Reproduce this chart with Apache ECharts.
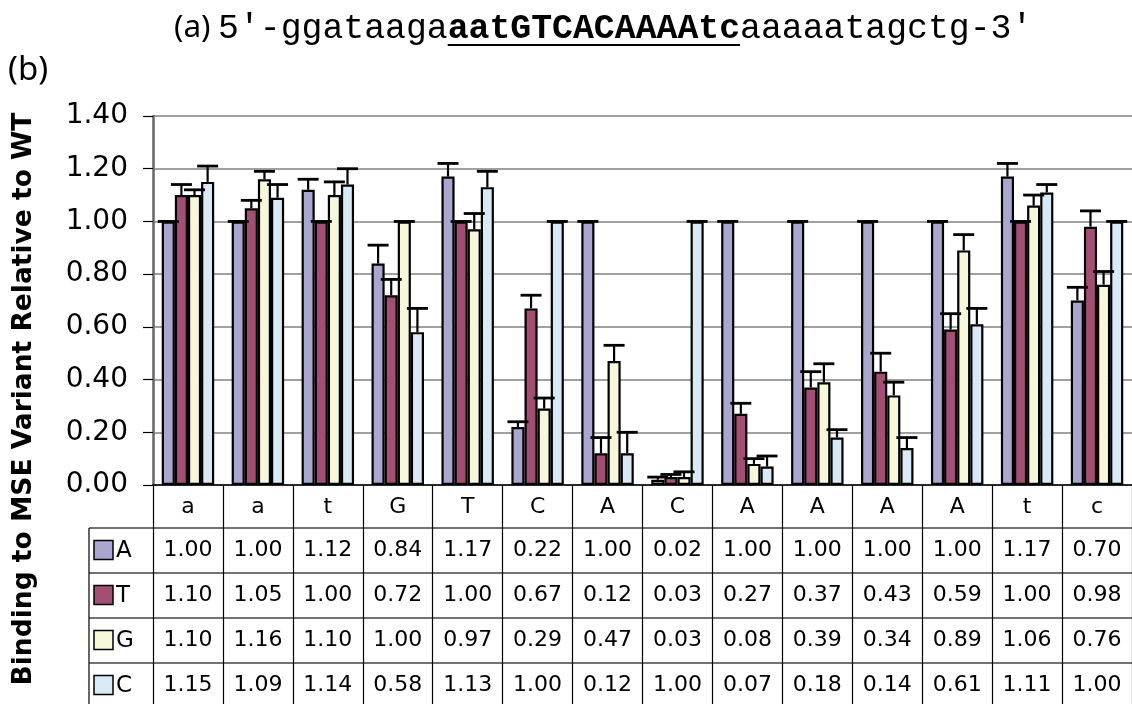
<!DOCTYPE html>
<html>
<head>
<meta charset="utf-8">
<style>
  html, body { margin: 0; padding: 0; background: #fff; }
  #chart { width: 1132px; height: 704px; }
</style>
<script src="https://cdn.jsdelivr.net/npm/echarts@6/dist/echarts.min.js"></script>
</head>
<body>
<div id="chart"></div>
<script>
// MSE variant binding, relative to WT, one group per position

const categories = ["a", "a", "t", "G", "T", "C", "A", "C", "A", "A", "A", "A", "t", "c"];
const seriesNames = ["A", "T", "G", "C"];
const seriesColors = ["#a9a6d0", "#a44e73", "#f7f7da", "#d7eaf6"];

const valA = [1.00, 1.00, 1.12, 0.84, 1.17, 0.22, 1.00, 0.02, 1.00, 1.00, 1.00, 1.00, 1.17, 0.70];
const valT = [1.10, 1.05, 1.00, 0.72, 1.00, 0.67, 0.12, 0.03, 0.27, 0.37, 0.43, 0.59, 1.00, 0.98];
const valG = [1.10, 1.16, 1.10, 1.00, 0.97, 0.29, 0.47, 0.03, 0.08, 0.39, 0.34, 0.89, 1.06, 0.76];
const valC = [1.15, 1.09, 1.14, 0.58, 1.13, 1.00, 0.12, 1.00, 0.07, 0.18, 0.14, 0.61, 1.11, 1.00];

// upper error bars
const errA = [0.00, 0.00, 0.04, 0.07, 0.05, 0.02, 0.00, 0.01, 0.00, 0.00, 0.00, 0.00, 0.05, 0.05];
const errT = [0.04, 0.03, 0.00, 0.06, 0.00, 0.05, 0.06, 0.01, 0.04, 0.06, 0.07, 0.06, 0.00, 0.06];
const errG = [0.02, 0.03, 0.05, 0.00, 0.06, 0.04, 0.06, 0.02, 0.02, 0.07, 0.05, 0.06, 0.04, 0.05];
const errC = [0.06, 0.05, 0.06, 0.09, 0.06, 0.00, 0.08, 0.00, 0.04, 0.03, 0.04, 0.06, 0.03, 0.00];

const yTicks = { min: 0, max: 1.4, interval: 0.2 };

const titlePrefix = "(a)";
const seqLeft = "5\u2032-ggataaga";
const seqCore = "aatGTCACAAAAtc";
const seqRight = "aaaaatagctg-3\u2032";
const yTitle = "Binding to MSE Variant Relative to WT";

const values = [valA, valT, valG, valC];
const errors = [errA, errT, errG, errC];

// ---------------- layout ----------------
const GRID = { left: 153, top: 116, width: 987, height: 369 };
const CAT_GAP = 0.25;                        // barCategoryGap
const TABLE_ROW_Y = [528, 573, 618, 663, 708]; // row boundaries below header
const TABLE_LEFT = 89;
const SANS = "DejaVu Sans";
const MONO = "Liberation Mono";
const LABEL = "Noto Sans";

function measure(text, font) {
    const c = document.createElement("canvas").getContext("2d");
    c.font = font;
    return c.measureText(text).width;
}

// ---------------- chart ----------------
const chart = echarts.init(document.getElementById("chart"), null, { renderer: "canvas" });

function errorSeries(k) {
    return {
        type: "custom",
        name: seriesNames[k] + "-err",
        z: 5,
        silent: true,
        data: categories.map((_, i) => [i, values[k][i], errors[k][i]]),
        renderItem: (params, api) => {
            const i = api.value(0);
            const v = api.value(1);
            const e = api.value(2);
            const band = api.size([1, 0])[0];
            const bw = band * (1 - CAT_GAP) / 4;
            const cx = api.coord([i, 0])[0] + (k - 1.5) * bw;
            const yv = api.coord([i, v])[1];
            const yt = api.coord([i, v + e])[1];
            const half = 10.5;
            return {
                type: "group",
                children: [
                    { type: "line", shape: { x1: cx, y1: yv, x2: cx, y2: yt }, style: { stroke: "#000", lineWidth: 2.2 } },
                    { type: "line", shape: { x1: cx - half, y1: yt, x2: cx + half, y2: yt }, style: { stroke: "#000", lineWidth: 2.8 } },
                ],
            };
        },
    };
}

const barSeries = seriesNames.map((name, k) => ({
    type: "bar",
    name,
    data: values[k],
    barGap: "0%",
    barCategoryGap: (CAT_GAP * 100) + "%",
    itemStyle: { color: seriesColors[k], borderColor: "#000", borderWidth: 2.2 },
    z: 3,
}));

chart.setOption({
    animation: false,
    backgroundColor: "#fff",
    grid: { ...GRID, containLabel: false },
    xAxis: {
        type: "category",
        data: categories,
        boundaryGap: true,
        axisLine: { lineStyle: { color: "#000", width: 1.5 } },
        axisTick: { show: true, length: 222, lineStyle: { color: "#000", width: 1.2 } },
        axisLabel: { color: "#000", fontFamily: SANS, fontSize: 22, margin: 11 },
        splitLine: { show: false },
    },
    yAxis: {
        type: "value",
        min: yTicks.min,
        max: yTicks.max,
        interval: yTicks.interval,
        axisLine: { show: true, lineStyle: { color: "#666", width: 2.5 } },
        axisTick: { show: true, length: 10, lineStyle: { color: "#000", width: 1.2 } },
        axisLabel: {
            color: "#000",
            fontFamily: SANS,
            fontSize: 28,
            margin: 25,
            formatter: (v) => v.toFixed(2),
        },
        splitLine: { show: true, lineStyle: { color: "#808080", width: 1.5 } },
    },
    series: [...barSeries, ...seriesNames.map((_, k) => errorSeries(k))],
});

// ---------------- titles + data table (graphic) ----------------
function buildGraphic() {
    const els = [];

    // title (a), sequence with the bold underlined core
    const ty = 29;
    const monoFont = `34.8px "${MONO}"`;
    const monoBold = `bold 34.8px "${MONO}"`;
    const x1 = 218;
    const w1 = measure(seqLeft, monoFont);
    const w2 = measure(seqCore, monoBold);
    const mid = { fill: "#000", verticalAlign: "middle", textVerticalAlign: "middle" };
    els.push({ type: "text", x: 174, y: ty - 1, style: { ...mid, text: titlePrefix, font: `31.5px "${LABEL}"` } });
    els.push({ type: "text", x: x1, y: ty, style: { ...mid, text: seqLeft, font: monoFont } });
    els.push({ type: "text", x: x1 + w1, y: ty, style: { ...mid, text: seqCore, font: monoBold } });
    els.push({ type: "text", x: x1 + w1 + w2, y: ty, style: { ...mid, text: seqRight, font: monoFont } });
    els.push({ type: "line", shape: { x1: x1 + w1, y1: 45, x2: x1 + w1 + w2, y2: 45 }, style: { stroke: "#000", lineWidth: 2.2 } });

    // (b)
    els.push({ type: "text", x: 8, y: 71, style: { ...mid, text: "(b)", font: `33px "${LABEL}"` } });

    // y-axis title
    els.push({
        type: "text", x: 24, y: 399, rotation: Math.PI / 2,
        style: { ...mid, text: yTitle, font: `bold 26.5px "${SANS}"`, align: "center", textAlign: "center" },
    });

    // table grid
    const right = GRID.left + GRID.width;
    const rowLine = { stroke: "#444", lineWidth: 1.6 };
    for (let r = 0; r < TABLE_ROW_Y.length - 1; r++) {
        els.push({ type: "line", shape: { x1: TABLE_LEFT, y1: TABLE_ROW_Y[r], x2: right, y2: TABLE_ROW_Y[r] }, style: rowLine });
    }
    els.push({ type: "line", shape: { x1: TABLE_LEFT, y1: TABLE_ROW_Y[0], x2: TABLE_LEFT, y2: 710 }, style: { stroke: "#000", lineWidth: 1.2 } });

    // legend keys + values
    for (let k = 0; k < seriesNames.length; k++) {
        const y0 = TABLE_ROW_Y[k], y1 = TABLE_ROW_Y[k + 1];
        const cy = (y0 + y1) / 2;
        els.push({ type: "rect", shape: { x: 94, y: cy - 10, width: 19, height: 19 }, style: { fill: seriesColors[k], stroke: "#000", lineWidth: 1.5 } });
        els.push({ type: "text", x: 116, y: cy + 1, style: { ...mid, text: seriesNames[k], font: `23px "${SANS}"` } });
        for (let i = 0; i < categories.length; i++) {
            const cx = chart.convertToPixel({ xAxisIndex: 0 }, i);
            els.push({
                type: "text", x: cx, y: cy,
                style: { ...mid, text: values[k][i].toFixed(2), font: `22px "${SANS}"`, align: "center", textAlign: "center" },
            });
        }
    }
    return els;
}

chart.setOption({ graphic: { elements: buildGraphic() } });
</script>
</body>
</html>
